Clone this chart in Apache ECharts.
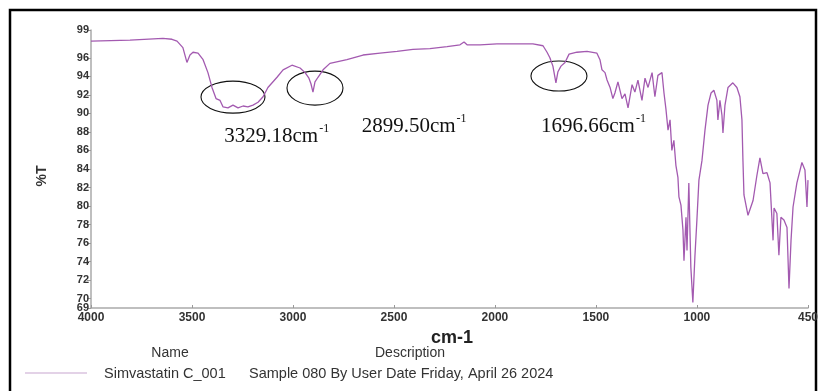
<!DOCTYPE html>
<html>
<head>
<meta charset="utf-8">
<script src="https://cdn.jsdelivr.net/npm/echarts@6/dist/echarts.min.js"></script>
<style>
html,body{margin:0;padding:0;background:#fff;}
#chart{width:821px;height:391px;}
</style>
</head>
<body>
<div id="chart"></div>
<script>
// ---- data ----
const wavenumber = [4000,3807,3644,3599,3574,3545,3525,3510,3495,3470,3445,3421,3401,3381,3361,3346,3322,3297,3272,3247,3223,3198,3173,3148,3124,3079,3049,3005,2965,2940,2921,2911,2901,2891,2876,2851,2817,2733,2653,2569,2485,2406,2322,2237,2173,2153,2138,2074,1990,1911,1812,1762,1742,1728,1713,1698,1688,1673,1653,1633,1594,1544,1495,1480,1470,1455,1445,1430,1416,1406,1391,1371,1356,1341,1321,1307,1292,1272,1257,1242,1222,1208,1193,1173,1163,1153,1143,1133,1124,1114,1104,1094,1089,1079,1069,1064,1054,1049,1040,1030,1020,1010,1000,990,975,960,945,930,916,901,896,886,876,871,861,846,822,802,787,777,772,767,747,722,703,688,673,653,638,623,618,604,594,584,569,554,544,534,524,505,480,465,455,450];
const transmittance = [97.8,97.9,98.1,98.0,97.8,97.1,95.5,96.3,96.6,96.5,95.8,94.4,92.8,91.6,91.4,90.7,90.6,90.9,90.6,90.8,90.7,90.9,91.2,91.8,92.8,93.9,94.7,95.2,94.9,94.4,93.8,93.2,92.3,93.4,93.9,94.7,95.4,95.8,96.3,96.5,96.7,96.9,97.0,97.2,97.4,97.7,97.4,97.4,97.5,97.5,97.5,97.3,96.6,96.0,95.1,93.3,94.5,95.1,95.5,96.4,96.6,96.7,96.5,95.8,94.7,94.4,93.6,92.8,91.6,92.2,93.4,91.6,92.1,90.6,93.1,92.3,93.6,91.4,93.8,92.8,94.4,91.8,94.1,94.4,92.2,90.4,88.2,89.3,86.0,87.1,84.4,83.1,81.0,80.1,77.4,74.1,78.8,75.2,82.5,73.4,69.6,74.5,78.5,82.8,84.9,88.2,90.9,92.2,92.5,91.4,89.3,91.4,89.8,87.9,90.9,92.8,93.3,92.8,91.8,89.3,84.9,81.2,79.0,80.6,83.3,85.2,83.5,83.6,82.5,76.3,79.8,79.2,74.7,78.8,78.5,77.7,71.1,76.3,79.9,82.5,84.7,83.9,79.9,82.8];
const xTickValues = [4000,3500,3000,2500,2000,1500,1000,450];
const yTickValues = [70,72,74,76,78,80,82,84,86,88,90,92,94,96,99];
const yMinTick = [69];
const peakLabels = ['3329.18', '2899.50', '1696.66'];
const seriesName = 'Simvastatin C_001';
const seriesDescription = 'Sample 080 By User Date Friday, April 26 2024';

// ---- annotation anchors (data coordinates) ----
const ellipseAnchors = [[3297, 91.76, 32, 16], [2891, 92.73, 28, 17], [1683, 94.03, 28, 15]];
const labelAnchors = [[3340, 87.65], [2660, 88.73], [1772, 88.73]];

const lineColor = '#a35ab0';
const sans = '"Liberation Sans", Arial, sans-serif';
const serif = '"Liberation Serif", "Times New Roman", serif';

const chart = echarts.init(document.getElementById('chart'), null, {renderer: 'canvas'});

const points = wavenumber.map((w, i) => [w, transmittance[i]]);

const yLabelStyle = {color: '#333', fontSize: 11, fontWeight: 'bold', fontFamily: sans, margin: 2};

const option = {
  animation: false,
  backgroundColor: '#fff',
  grid: {left: 91, right: 13, top: 30, bottom: 83, containLabel: false},
  xAxis: {
    type: 'value', min: 450, max: 4000, inverse: true,
    axisLine: {show: true, onZero: false, lineStyle: {color: '#aaa', width: 1.5}},
    axisTick: {show: true, inside: true, length: 3, customValues: xTickValues, lineStyle: {color: '#999'}},
    axisLabel: {customValues: xTickValues, formatter: v => String(v), showMinLabel: true, showMaxLabel: true, hideOverlap: false,
      color: '#333', fontSize: 12, fontWeight: 'bold', fontFamily: sans, margin: 4},
    splitLine: {show: false}
  },
  yAxis: [{
    type: 'value', min: 69, max: 99, position: 'left',
    axisLine: {show: true, onZero: false, lineStyle: {color: '#aaa', width: 1.5}},
    axisTick: {show: true, length: 4, customValues: yTickValues, lineStyle: {color: '#999'}},
    axisLabel: Object.assign({customValues: yTickValues, formatter: v => String(v), hideOverlap: false}, yLabelStyle),
    splitLine: {show: false}
  }, {
    type: 'value', min: 69, max: 99, position: 'left', offset: 0,
    axisLine: {show: false, onZero: false},
    axisTick: {show: true, length: 4, customValues: yMinTick, lineStyle: {color: '#999'}},
    axisLabel: Object.assign({customValues: yMinTick, formatter: v => String(v), hideOverlap: false, showMinLabel: true}, yLabelStyle),
    splitLine: {show: false}
  }],
  series: [{
    name: seriesName,
    type: 'line',
    data: points,
    yAxisIndex: 0,
    showSymbol: false,
    symbol: 'none',
    lineStyle: {color: lineColor, width: 1.3},
    clip: false
  }]
};
chart.setOption(option);

function buildGraphics() {
  const g = [];
  // outer frame
  g.push({type: 'rect', shape: {x: 10, y: 10, width: 806, height: 400}, style: {fill: 'none', stroke: '#000', lineWidth: 2.5}, silent: true});
  // %T
  g.push({type: 'text', x: 42, y: 176, rotation: Math.PI / 2, style: {text: '%T', font: 'bold 14px ' + sans, fill: '#333', align: 'center', verticalAlign: 'middle'}});
  // cm-1
  g.push({type: 'text', x: 452, y: 338, style: {text: 'cm-1', font: 'bold 18px ' + sans, fill: '#222', align: 'center', verticalAlign: 'middle'}});
  // legend header
  g.push({type: 'text', x: 170, y: 353, style: {text: 'Name', font: '14px ' + sans, fill: '#333', align: 'center', verticalAlign: 'middle'}});
  g.push({type: 'text', x: 410, y: 353, style: {text: 'Description', font: '14px ' + sans, fill: '#333', align: 'center', verticalAlign: 'middle'}});
  g.push({type: 'line', shape: {x1: 25, y1: 373, x2: 87, y2: 373}, style: {stroke: '#c8a6cf', lineWidth: 1.2}});
  g.push({type: 'text', x: 104, y: 374, style: {text: seriesName, font: '14.5px ' + sans, fill: '#333', align: 'left', verticalAlign: 'middle'}});
  g.push({type: 'text', x: 249, y: 374, style: {text: seriesDescription, font: '14.5px ' + sans, fill: '#333', align: 'left', verticalAlign: 'middle'}});
  // ellipses
  ellipseAnchors.forEach(a => {
    const p = chart.convertToPixel({gridIndex: 0}, [a[0], a[1]]);
    g.push({type: 'ellipse', shape: {cx: p[0], cy: p[1], rx: a[2], ry: a[3]}, style: {fill: 'none', stroke: '#111', lineWidth: 1.1}, silent: true});
  });
  // peak labels
  labelAnchors.forEach((a, i) => {
    const p = chart.convertToPixel({gridIndex: 0}, [a[0], a[1]]);
    g.push({type: 'text', x: p[0], y: p[1], style: {
      text: '{a|' + peakLabels[i] + 'cm}{b|-1}',
      align: 'left', verticalAlign: 'middle',
      rich: {
        a: {fontFamily: serif, fontSize: 21, lineHeight: 24, fill: '#111', color: '#111', verticalAlign: 'bottom'},
        b: {fontFamily: serif, fontSize: 12, lineHeight: 24, fill: '#111', color: '#111', verticalAlign: 'top', padding: [0,0,0,1]}
      }
    }});
  });
  return g;
}
chart.setOption({graphic: buildGraphics()});
</script>
</body>
</html>
